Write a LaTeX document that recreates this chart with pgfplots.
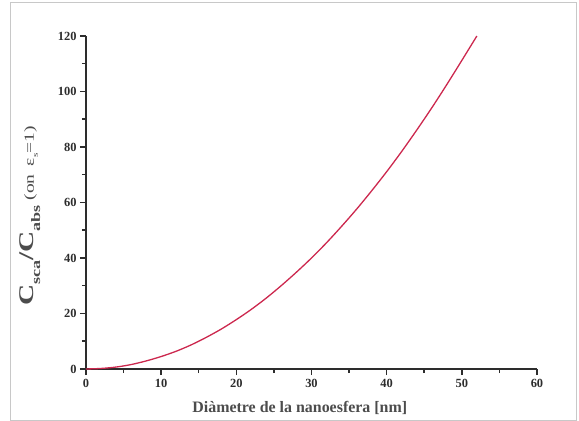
\documentclass[border=0pt]{standalone}
\usepackage{pgfplots}
\pgfplotsset{compat=1.18}
\usepackage{fontspec}
\setmainfont{Liberation Serif}

\definecolor{curvered}{RGB}{204,40,78}
\definecolor{axisgray}{RGB}{45,45,45}
\definecolor{framegray}{RGB}{200,200,200}

\begin{document}
\begin{tikzpicture}
\path[use as bounding box] (0bp,0bp) rectangle (579bp,421bp);
\draw[framegray, line width=1bp] (10bp,1bp) rectangle (576bp,418bp);
\begin{axis}[
  at={(86bp,52bp)}, anchor=south west,
  scale only axis, width=451bp, height=333bp,
  xmin=0, xmax=60, ymin=0, ymax=120,
  axis x line=bottom, axis y line=left,
  axis line style={-, line width=1.8bp, axisgray},
  xtick={0,10,...,60}, ytick={0,20,...,120},
  minor x tick num=1, minor y tick num=1,
  tick align=outside,
  major tick length=6bp, minor tick length=4bp,
  every tick/.style={axisgray, line width=1.5bp},
  /pgf/number format/assume math mode=true,
  ticklabel style={font=\bfseries\fontsize{12.5}{13}\selectfont, text=axisgray},
  xticklabel style={yshift=-0.5bp},
  xlabel={Diàmetre de la nanoesfera [nm]},
  xlabel style={at={(axis description cs:0.474,-0.117)}, anchor=center,
    font=\bfseries\fontsize{16}{16}\selectfont, text=axisgray!85},
  ylabel={\scalebox{1.4}[1]{\bfseries\fontsize{21}{21}\selectfont C\raisebox{-0.3em}{\fontsize{13}{13}\selectfont sca}/C\raisebox{-0.3em}{\fontsize{13}{13}\selectfont abs}\,{\mdseries\fontsize{14}{14}\selectfont(on\, ε\raisebox{-0.3em}{\fontsize{8}{8}\selectfont s}=1)}}},
  ylabel style={at={(axis description cs:-0.124,0.459)}, anchor=center, text=axisgray!85},
  clip=false,
]
\addplot[curvered, line width=1.3bp, smooth] coordinates {
  (0,0) (2,0.2) (4,0.7) (6,1.6) (8,2.9) (10,4.5) (12,6.4) (14,8.7)
  (16,11.4) (18,14.4) (20,17.8) (22,21.5) (24,25.6) (26,30.1) (28,34.9)
  (30,40.0) (32,45.5) (34,51.4) (36,57.6) (38,64.2) (40,71.1) (42,78.4)
  (44,86.1) (46,94.1) (48,102.5) (50,111.2) (52,120.0)
};
\end{axis}
\end{tikzpicture}
\end{document}
